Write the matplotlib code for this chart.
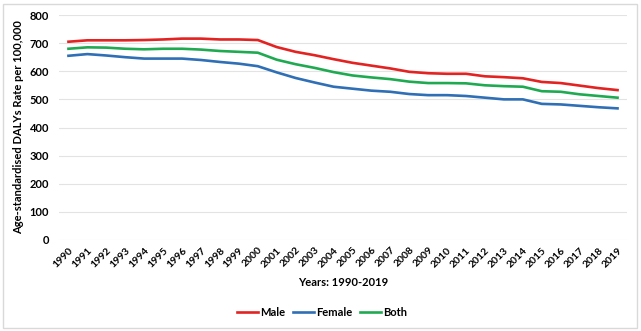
import matplotlib
matplotlib.use("Agg")
import matplotlib.pyplot as plt
from matplotlib.patches import Rectangle

years = [str(y) for y in range(1990, 2020)]
male = [705, 710, 710, 710, 711, 713, 716, 716, 713, 713, 711, 686, 669, 657, 643,
        630, 620, 610, 598, 593, 591, 591, 582, 579, 575, 562, 558, 549, 540, 533]
female = [655, 661, 656, 650, 645, 645, 645, 640, 633, 627, 618, 596, 576, 560, 545,
          538, 531, 527, 519, 515, 515, 512, 506, 500, 500, 484, 482, 477, 472, 468]
both = [680, 685, 684, 680, 678, 680, 680, 677, 672, 669, 666, 641, 625, 612, 597,
        585, 578, 572, 563, 558, 558, 557, 550, 547, 545, 529, 527, 518, 512, 506]
yticks = [0, 100, 200, 300, 400, 500, 600, 700, 800]

plt.rcParams['font.family'] = ['Lato', 'DejaVu Sans']

W, H = 641, 331
fig = plt.figure(figsize=(W / 100, H / 100), dpi=100)
fig.patches.append(Rectangle((3 / W, 3 / H), (W - 7) / W, (H - 7) / H,
                             transform=fig.transFigure, fill=False,
                             edgecolor='#d9d9d9', linewidth=1.0))

left, right, top, bottom = 59, 627, 15, 240
ax = fig.add_axes([left / W, 1 - bottom / H, (right - left) / W, (bottom - top) / H])

x = list(range(len(years)))
ax.plot(x, male, color='#e32222', lw=1.9, label='Male')
ax.plot(x, female, color='#2f6fb5', lw=1.9, label='Female')
ax.plot(x, both, color='#1faa52', lw=1.9, label='Both')

ax.set_xlim(-0.5, len(years) - 0.5)
ax.set_ylim(0, 800)
ax.set_yticks(yticks)
ax.set_yticklabels([str(v) for v in yticks], fontsize=8, fontweight='bold')
ax.set_xticks(x)
ax.set_xticklabels(years, rotation=45, ha='right', rotation_mode='anchor',
                   fontsize=7.5, fontweight='bold')
ax.tick_params(axis='both', length=0, pad=7)
ax.tick_params(axis='x', pad=4)
ax.grid(axis='y', color='#e3e3e3', lw=0.8)
ax.set_axisbelow(True)
for s in ax.spines.values():
    s.set_visible(False)

ax.set_ylabel('Age-standardised DALYs Rate per 100,000', fontsize=8,
              fontweight='bold', labelpad=4)
fig.text(343 / W, 1 - 282 / H, 'Years: 1990-2019', ha='center', va='center',
         fontsize=8, fontweight='bold')

leg = fig.legend(loc='center', bbox_to_anchor=(322 / W, 1 - 312 / H), ncol=3,
                 frameon=False, prop={'size': 8, 'weight': 'bold'},
                 handlelength=1.9, handletextpad=0.15, columnspacing=0.7)

fig.savefig('out.png', dpi=100)
